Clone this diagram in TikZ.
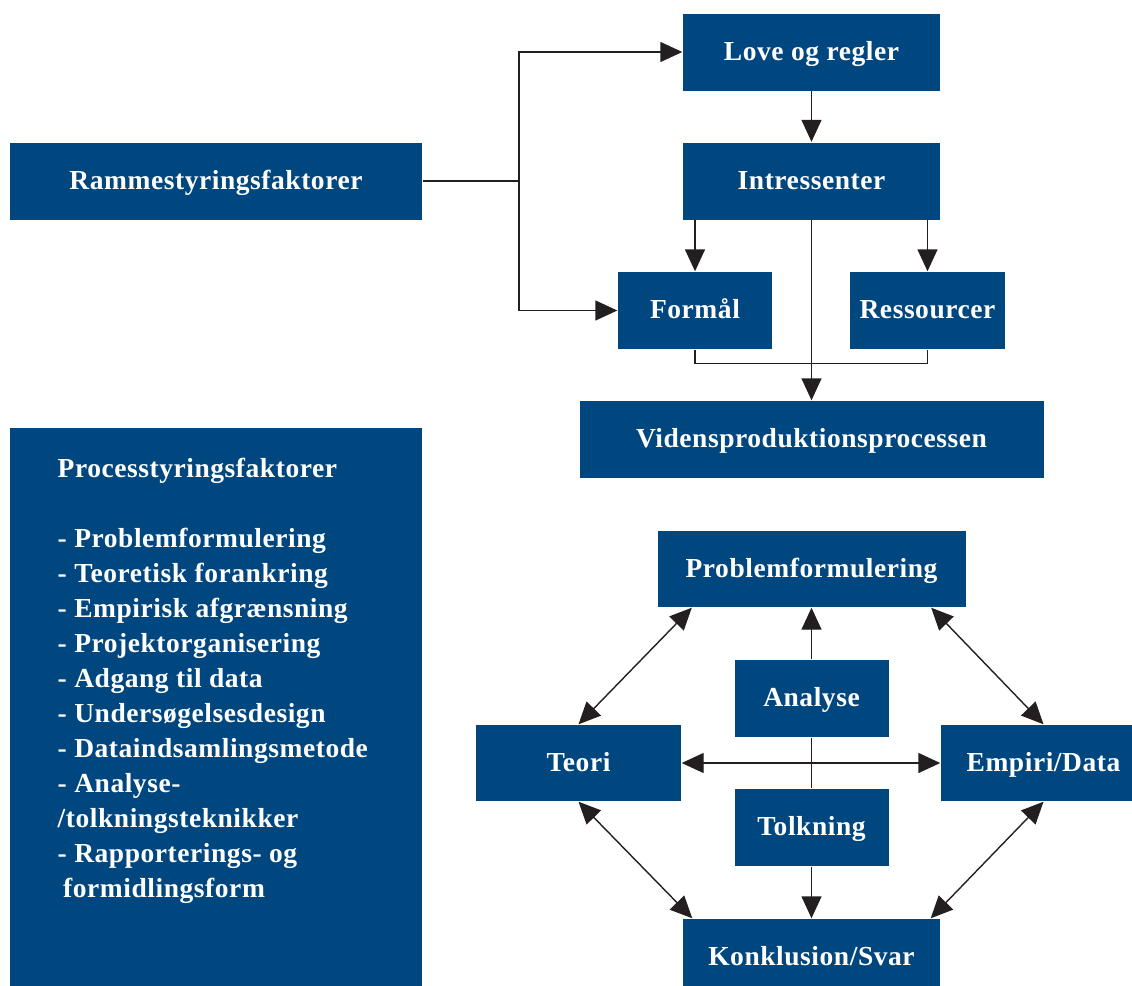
\documentclass[tikz,border=0pt]{standalone}
\usepackage{fontspec}
\setmainfont{Liberation Serif}
\usetikzlibrary{arrows.meta}
\definecolor{boksblaa}{RGB}{0,70,127}
\definecolor{streg}{RGB}{35,31,32}
\tikzset{
  tekst/.style={text=white, inner sep=0pt,
    font=\fontsize{27.5}{35}\selectfont\bfseries\addfontfeature{LetterSpace=2}},
  boks/.style={tekst, fill=boksblaa, text height=20pt, text depth=4pt},
  pil/.style={-{Triangle[length=22pt,width=20pt]}},
  dobbelpil/.style={{Triangle[length=22pt,width=20pt]}-{Triangle[length=22pt,width=20pt]}},
}

\begin{document}
\begin{tikzpicture}[x=1pt, y=-1pt, line width=1.4pt, draw=streg]
    \useasboundingbox (0,0) rectangle (1132,985);

    % Rammestyring
    \node[boks, minimum width=257pt, minimum height=77pt] (love) at (811.5,52) {Love og regler};
    \node[boks, minimum width=257pt, minimum height=77pt] (intr) at (811.5,181) {Intressenter};
    \node[boks, minimum width=412pt, minimum height=77pt] (ramme) at (216,181) {Rammestyringsfaktorer};
    \node[boks, minimum width=154pt, minimum height=77pt] (formaal) at (695,310.5) {Formål};
    \node[boks, minimum width=155pt, minimum height=77pt] (ress) at (927.5,310.5) {Ressourcer};
    \node[boks, minimum width=464pt, minimum height=77pt] (viden) at (811.5,439.5) {Vidensproduktionsprocessen};

    % Processtyring
    \node[boks, minimum width=412pt, minimum height=570pt] (proc) at (216,713) {};
    \node[tekst, anchor=north west, align=left] (proctekst) at (57,457)
      {Processtyringsfaktorer\\[35pt]
       - Problemformulering\\
       - Teoretisk forankring\\
       - Empirisk afgrænsning\\
       - Projektorganisering\\
       - Adgang til data\\
       - Undersøgelsesdesign\\
       - Dataindsamlingsmetode\\
       - Analyse-\\
       /tolkningsteknikker\\
       - Rapporterings- og\\
       \hspace{0.2em}formidlingsform};

    % Vidensproduktion
    \node[boks, minimum width=308pt, minimum height=76pt] (prob) at (811.5,569) {Problemformulering};
    \node[boks, minimum width=154pt, minimum height=77pt] (analyse) at (811.5,698.5) {Analyse};
    \node[boks, minimum width=205pt, minimum height=76pt] (teori) at (578.5,763) {Teori};
    \node[boks, minimum width=205pt, minimum height=76pt] (empiri) at (1043.5,763) {Empiri/Data};
    \node[boks, minimum width=154pt, minimum height=77pt] (tolk) at (811.5,827.5) {Tolkning};
    \node[boks, minimum width=257pt, minimum height=77pt] (konkl) at (811.5,957.5) {Konklusion/Svar};

    % Forbindelser oeverst
    \coordinate (split) at (519,181);
    \draw (ramme.east) -- (split);
    \draw[pil] (split) |- (love.west);
    \draw[pil] (split) |- (formaal.west);
    \draw[pil] (love) -- (intr);
    \draw[pil] (intr.south -| formaal.north) -- (formaal.north);
    \draw[pil] (intr.south -| ress.north) -- (ress.north);
    \draw[pil] (intr.south) -- (viden.north);
    \draw (formaal.south) -- ++(0,14) -| (ress.south);

    % Forbindelser nederst
    \draw[pil] (analyse.north) -- (prob.south);
    \draw (analyse.south) -- (tolk.north);
    \draw[pil] (tolk.south) -- (konkl.north);
    \draw[dobbelpil] (teori.east) -- (empiri.west);
    \draw[dobbelpil] (teori.north) -- ([xshift=35pt]prob.south west);
    \draw[dobbelpil] ([xshift=-35pt]prob.south east) -- (empiri.north);
    \draw[dobbelpil] (teori.south) -- ([xshift=10pt]konkl.north west);
    \draw[dobbelpil] ([xshift=-10pt]konkl.north east) -- (empiri.south);
  \end{tikzpicture}
\end{document}
